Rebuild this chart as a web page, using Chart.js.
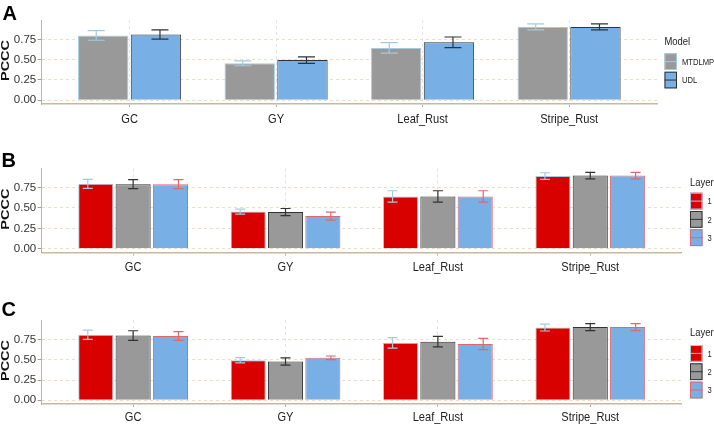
<!DOCTYPE html>
<html lang="en">
<head>
<meta charset="UTF-8">
<title>PCCC by trait</title>
<script src="https://cdn.jsdelivr.net/npm/chart.js"></script>
<style>
  html, body { margin: 0; padding: 0; background: #fff; }
  #wrap { position: relative; width: 714px; height: 428px; }
  canvas { position: absolute; left: 0; }
</style>
</head>
<body>
<div id="wrap">
  <canvas id="chartA" width="714" height="126" style="top:0px"></canvas>
  <canvas id="chartB" width="714" height="150" style="top:126px"></canvas>
  <canvas id="chartC" width="714" height="152" style="top:276px"></canvas>
</div>
<script>
// categories and y ticks (shared by all panels)
var traits = ['GC', 'GY', 'Leaf_Rust', 'Stripe_Rust'];
var yTicks = [0, 0.25, 0.50, 0.75];

// panel A - model comparison
var modelNames = ['MTDLMP', 'UDL'];
var mtdlmpMean = [0.80, 0.455, 0.645, 0.905];
var mtdlmpErr  = [0.060, 0.030, 0.065, 0.037];
var udlMean    = [0.81, 0.495, 0.715, 0.905];
var udlErr     = [0.057, 0.040, 0.065, 0.038];

// panel B - layers
var layerNames = ['1', '2', '3'];
var bLayer1Mean = [0.795, 0.455, 0.64, 0.89];
var bLayer1Err  = [0.055, 0.030, 0.07, 0.040];
var bLayer2Mean = [0.79, 0.45, 0.64, 0.895];
var bLayer2Err  = [0.055, 0.043, 0.07, 0.040];
var bLayer3Mean = [0.79, 0.40, 0.64, 0.895];
var bLayer3Err  = [0.055, 0.050, 0.07, 0.040];

// panel C - layers
var cLayer1Mean = [0.81, 0.495, 0.71, 0.90];
var cLayer1Err  = [0.057, 0.033, 0.065, 0.043];
var cLayer2Mean = [0.80, 0.48, 0.725, 0.905];
var cLayer2Err  = [0.060, 0.045, 0.065, 0.043];
var cLayer3Mean = [0.795, 0.525, 0.695, 0.905];
var cLayer3Err  = [0.055, 0.022, 0.070, 0.043];

var SANS = '"Liberation Sans", Arial, sans-serif';
var LIGHTBLUE = '#a3cbe0', DARK = '#333333', PINK = '#e2676d';

// no narrow font installed: squeeze Liberation Sans horizontally instead
function narrowText(ctx, text, x, y, align, squeeze) {
  ctx.save();
  ctx.translate(x, y);
  ctx.scale(squeeze, 1);
  ctx.textAlign = align;
  ctx.fillText(text, 0, 0);
  ctx.restore();
}

// error bars drawn on top of the bars
var errorBars = {
  id: 'errorBars',
  afterDatasetsDraw: function(chart, args, opts) {
    var ctx = chart.ctx, y = chart.scales.y;
    chart.data.datasets.forEach(function(ds, i) {
      var meta = chart.getDatasetMeta(i);
      meta.data.forEach(function(bar, j) {
        var v = ds.data[j].y, e = ds.err[j];
        var x = bar.x + ds.errShift;
        var top = y.getPixelForValue(v + e), bot = y.getPixelForValue(v - e);
        var w = opts.capWidth / 2;
        ctx.save();
        ctx.strokeStyle = ds.errColor;
        ctx.lineWidth = 1.2;
        ctx.beginPath();
        ctx.moveTo(x - w, top); ctx.lineTo(x + w, top);
        ctx.moveTo(x, top); ctx.lineTo(x, bot);
        ctx.moveTo(x - w, bot); ctx.lineTo(x + w, bot);
        ctx.stroke();
        ctx.restore();
      });
    });
  }
};

// trait names under the x axis and the y axis title, condensed like the original
var axisText = {
  id: 'axisText',
  afterDraw: function(chart, args, o) {
    var ctx = chart.ctx, xs = chart.scales.x, area = chart.chartArea;
    ctx.save();
    ctx.fillStyle = '#222';
    ctx.font = '13.5px ' + SANS;
    ctx.textBaseline = 'middle';
    xs.ticks.forEach(function(t) {
      narrowText(ctx, traits[t.value - 1], xs.getPixelForValue(t.value), xs.top + o.dy, 'center', 0.82);
    });
    // rotated "PCCC"
    ctx.fillStyle = '#111';
    ctx.font = 'bold 14.5px ' + SANS;
    ctx.translate(6.5, (area.top + area.bottom) / 2 - 1.5);
    ctx.rotate(-Math.PI / 2);
    ctx.scale(1, 0.72);
    ctx.textAlign = 'center';
    ctx.fillText(o.yTitle, 0, 0);
    ctx.restore();
  }
};

// ggplot-like legend on the right
var keyLegend = {
  id: 'keyLegend',
  afterDraw: function(chart, args, o) {
    var ctx = chart.ctx;
    ctx.save();
    ctx.textBaseline = 'middle';
    ctx.fillStyle = '#222';
    ctx.font = '11.5px ' + SANS;
    narrowText(ctx, o.title, o.x, o.titleY, 'left', 0.82);
    chart.data.datasets.forEach(function(ds, i) {
      var top = o.keyY + i * (o.keyH + o.gap);
      ctx.fillStyle = ds.backgroundColor;
      ctx.fillRect(o.x, top, o.keyW, o.keyH);
      ctx.strokeStyle = ds.errColor;
      ctx.lineWidth = 1;
      ctx.strokeRect(o.x + 0.5, top + 0.5, o.keyW - 1, o.keyH - 1);
      ctx.beginPath();
      ctx.moveTo(o.x, top + o.keyH / 2);
      ctx.lineTo(o.x + o.keyW, top + o.keyH / 2);
      ctx.stroke();
      ctx.fillStyle = '#222';
      ctx.font = '9.5px ' + SANS;
      narrowText(ctx, ds.label, o.x + o.keyW + 5, top + o.keyH / 2 + 0.5, 'left', 0.8);
    });
    ctx.restore();
  }
};

// panel letter A / B / C
var panelTag = {
  id: 'panelTag',
  afterDraw: function(chart, args, o) {
    var ctx = chart.ctx;
    ctx.save();
    ctx.fillStyle = '#000';
    ctx.font = 'bold 20px ' + SANS;
    ctx.textBaseline = 'alphabetic';
    ctx.fillText(o.text, o.x, o.y);
    ctx.restore();
  }
};

function makeChart(id, p) {
  var datasets = p.names.map(function(name, k) {
    return {
      label: name,
      data: p.means[k].map(function(m, i) { return {x: i + 1, y: m}; }),
      err: p.errs[k],
      errColor: p.lines[k],
      errShift: p.shift[k],
      backgroundColor: p.fills[k],
      borderColor: p.lines[k],
      borderWidth: 1,
      categoryPercentage: p.catPct,
      barPercentage: p.barPct
    };
  });
  return new Chart(document.getElementById(id), {
    type: 'bar',
    data: {datasets: datasets},
    plugins: [errorBars, axisText, keyLegend, panelTag],
    options: {
      responsive: false,
      animation: false,
      layout: {padding: {top: p.top, right: p.right, left: 0, bottom: 0}},
      plugins: {
        legend: {display: false},
        tooltip: {enabled: false},
        errorBars: {capWidth: p.cap},
        axisText: {dy: p.labelDy, yTitle: 'PCCC'},
        keyLegend: p.legend,
        panelTag: p.tag
      },
      scales: {
        x: {
          type: 'linear',
          min: 0.4, max: 4.6,
          offset: false,
          afterBuildTicks: function(s) { s.ticks = traits.map(function(t, i) { return {value: i + 1}; }); },
          afterFit: function(s) { s.height = p.xh; },
          ticks: {display: false},
          grid: {offset: false, color: '#e4e4e4', lineWidth: 1, tickLength: 3, tickColor: '#bfae98'},
          border: {color: '#c9b79f', width: 1.5, dash: [3, 3]}
        },
        y: {
          min: p.yMin, max: p.yMax,
          afterBuildTicks: function(s) { s.ticks = yTicks.map(function(v) { return {value: v}; }); },
          afterFit: function(s) { s.width = 41.7; },
          ticks: {
            callback: function(v) { return v.toFixed(2); },
            padding: 1.5, color: '#333', font: {family: SANS, size: 11.5}
          },
          grid: {color: '#f0dcc8', lineWidth: 1, tickLength: 4, tickColor: '#9a9a9a'},
          border: {color: '#b9b2aa', width: 1, dash: [3, 3]}
        }
      }
    }
  });
}

makeChart('chartA', {
  names: modelNames,
  means: [mtdlmpMean, udlMean],
  errs: [mtdlmpErr, udlErr],
  fills: ['#999999', '#78afe4'],
  lines: [LIGHTBLUE, DARK],
  shift: [-7, 4],
  catPct: 0.72, barPct: 0.955, cap: 17,
  yMin: -0.047, yMax: 0.99,
  top: 20, right: 57, xh: 22, labelDy: 15.5,
  legend: {title: 'Model', x: 664.5, titleY: 41.7, keyY: 53.3, keyW: 12.5, keyH: 16.7, gap: 1.7},
  tag: {text: 'A', x: 2.5, y: 20}
});

makeChart('chartB', {
  names: layerNames,
  means: [bLayer1Mean, bLayer2Mean, bLayer3Mean],
  errs: [bLayer1Err, bLayer2Err, bLayer3Err],
  fills: ['#d90000', '#999999', '#78afe4'],
  lines: [LIGHTBLUE, DARK, PINK],
  shift: [-8, 0, 8],
  catPct: 0.735, barPct: 0.94, cap: 10,
  yMin: -0.047, yMax: 0.982,
  top: 42.5, right: 32.3, xh: 23.3, labelDy: 14.5,
  legend: {title: 'Layer', x: 690, titleY: 56.7, keyY: 66.7, keyW: 12.5, keyH: 16.8, gap: 1.5},
  tag: {text: 'B', x: 1.5, y: 41}
});

makeChart('chartC', {
  names: layerNames,
  means: [cLayer1Mean, cLayer2Mean, cLayer3Mean],
  errs: [cLayer1Err, cLayer2Err, cLayer3Err],
  fills: ['#d90000', '#999999', '#78afe4'],
  lines: [LIGHTBLUE, DARK, PINK],
  shift: [-8, 0, 8],
  catPct: 0.735, barPct: 0.94, cap: 10,
  yMin: -0.047, yMax: 0.993,
  top: 44, right: 32.3, xh: 24, labelDy: 13,
  legend: {title: 'Layer', x: 690, titleY: 57.3, keyY: 69, keyW: 12.5, keyH: 16.8, gap: 1.5},
  tag: {text: 'C', x: 1.5, y: 40}
});
</script>
</body>
</html>
